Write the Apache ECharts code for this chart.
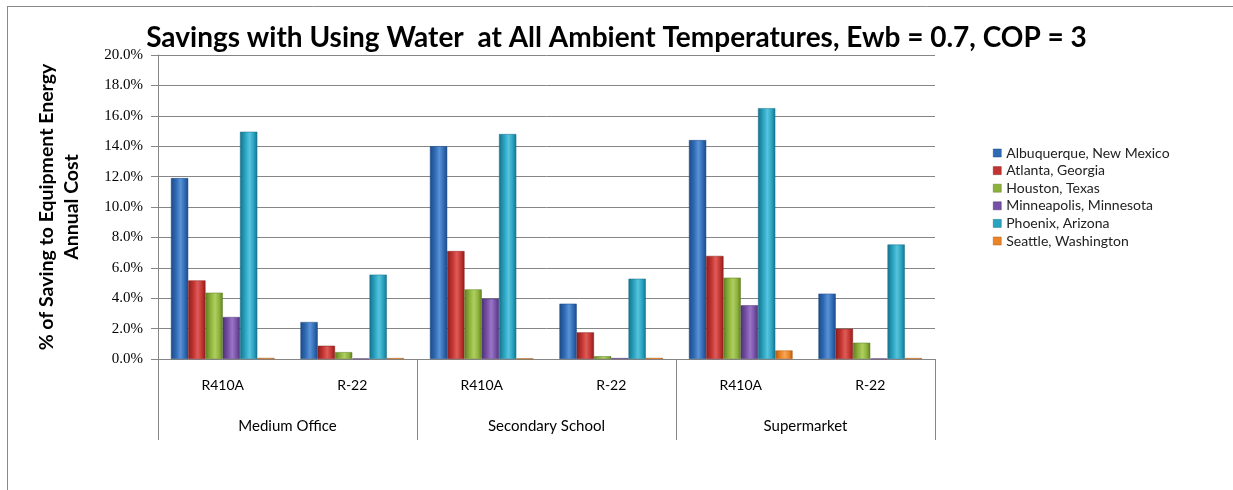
<!DOCTYPE html>
<html>
<head>
<meta charset="utf-8">
<script src="https://cdn.jsdelivr.net/npm/echarts@6/dist/echarts.min.js"></script>
<style>
  html, body { margin: 0; padding: 0; background: #fff; }
  #chart { width: 1233px; height: 490px; }
</style>
</head>
<body>
<div id="chart"></div>
<script>
// Refrigerant per building type (inner axis) and building type (outer axis)
const refrigerants = ['R410A', 'R-22', 'R410A', 'R-22', 'R410A', 'R-22'];
const buildings = ['Medium Office', 'Secondary School', 'Supermarket'];

// Savings as % of equipment energy annual cost
const albuquerque = [11.9, 2.43, 14.0, 3.64, 14.4, 4.3];
const atlanta     = [5.17, 0.87, 7.1, 1.75, 6.78, 1.99];
const houston     = [4.36, 0.45, 4.58, 0.18, 5.35, 1.07];
const minneapolis = [2.76, 0.03, 3.97, 0.06, 3.53, 0.03];
const phoenix     = [14.95, 5.55, 14.8, 5.28, 16.5, 7.53];
const seattle     = [0.07, 0.06, 0.04, 0.07, 0.56, 0.06];

const cities = [
  { name: 'Albuquerque, New Mexico', data: albuquerque, color: '#2F6BB5', dark: '#1D4A86', light: '#5B92D6' },
  { name: 'Atlanta, Georgia',        data: atlanta,     color: '#C23431', dark: '#8C1E1C', light: '#DE5C58' },
  { name: 'Houston, Texas',          data: houston,     color: '#8DB23C', dark: '#5F7E22', light: '#AFCF60' },
  { name: 'Minneapolis, Minnesota',  data: minneapolis, color: '#7650A6', dark: '#4F3275', light: '#9A76C6' },
  { name: 'Phoenix, Arizona',        data: phoenix,     color: '#28A3C0', dark: '#17718A', light: '#58C3DC' },
  { name: 'Seattle, Washington',     data: seattle,     color: '#EB8426', dark: '#B05A10', light: '#F6A657' }
];

const font = 'Lato, "Open Sans", sans-serif';

const chart = echarts.init(document.getElementById('chart'));
chart.setOption({
  backgroundColor: '#fff',
  animation: false,
  title: {
    text: 'Savings with Using Water  at All Ambient Temperatures, Ewb = 0.7, COP = 3',
    left: 'center',
    top: 19,
    textStyle: { fontFamily: font, fontWeight: 'bold', fontSize: 28, color: '#000' }
  },
  legend: {
    orient: 'vertical',
    left: 988,
    top: 141,
    itemWidth: 8,
    itemHeight: 8,
    itemGap: 3.6,
    icon: 'rect',
    textStyle: { fontFamily: font, fontSize: 14, color: '#222', lineHeight: 12 },
    data: cities.map(c => ({ name: c.name, itemStyle: { color: c.color, borderColor: c.dark, borderWidth: 0.5 } }))
  },
  grid: { left: 158, right: 298, top: 55, bottom: 131, containLabel: false },
  xAxis: [
    {
      type: 'category',
      data: refrigerants,
      position: 'bottom',
      axisLine: { show: true, lineStyle: { color: '#868686', width: 1 } },
      axisTick: { show: false },
      axisLabel: { margin: 19, fontFamily: font, fontSize: 14, color: '#000' }
    },
    {
      type: 'category',
      data: buildings,
      position: 'bottom',
      offset: 81,
      axisLine: { show: false },
      axisTick: { show: true, inside: true, length: 81, lineStyle: { color: '#868686' } },
      axisLabel: { inside: true, margin: 6, fontFamily: font, fontSize: 15, color: '#000' }
    }
  ],
  yAxis: {
    type: 'value',
    min: 0,
    max: 20,
    interval: 2,
    name: '% of Saving to Equipment Energy\nAnnual Cost',
    nameLocation: 'middle',
    nameGap: 74,
    nameTextStyle: { fontFamily: font, fontWeight: 'bold', fontSize: 19.5, color: '#000', lineHeight: 25 },
    axisLine: { show: true, lineStyle: { color: '#868686' } },
    axisTick: { show: true, length: 7, lineStyle: { color: '#868686' } },
    axisLabel: {
      margin: 15,
      fontFamily: '"Liberation Serif", serif',
      fontSize: 15,
      color: '#000',
      formatter: v => v.toFixed(1) + '%'
    },
    splitLine: { show: true, lineStyle: { color: '#868686', width: 1 } }
  },
  graphic: [
    { type: 'line', shape: { x1: 7, y1: 6.5, x2: 1233, y2: 6.5 }, style: { stroke: '#8a8a8a', lineWidth: 1 } },
    { type: 'line', shape: { x1: 7.5, y1: 6, x2: 7.5, y2: 490 }, style: { stroke: '#8a8a8a', lineWidth: 1 } }
  ],
  series: cities.map(c => ({
    name: c.name,
    type: 'bar',
    data: c.data,
    barGap: '0%',
    barCategoryGap: '20%',
    itemStyle: {
      color: {
        type: 'linear', x: 0, y: 0, x2: 1, y2: 0,
        colorStops: [
          { offset: 0, color: c.dark },
          { offset: 0.3, color: c.color },
          { offset: 0.55, color: c.light },
          { offset: 0.8, color: c.color },
          { offset: 1, color: c.dark }
        ]
      },
      borderColor: c.dark,
      borderWidth: 0.5
    }
  }))
});
</script>
</body>
</html>
